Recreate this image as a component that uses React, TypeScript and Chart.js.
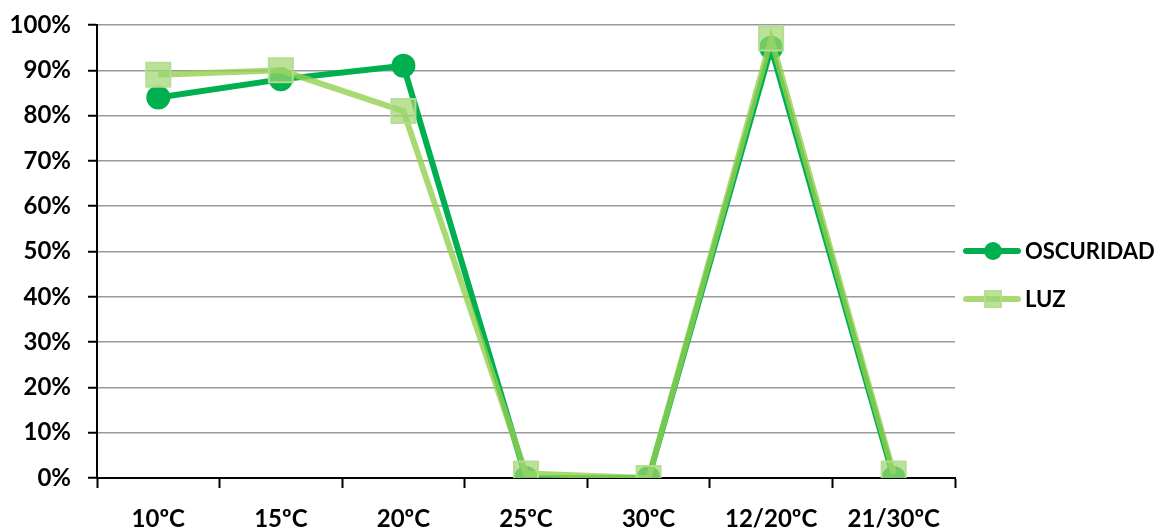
import React, { useEffect, useRef } from "react";
import { Chart, registerables } from "chart.js";

Chart.register(...registerables);

const categories = ["10ºC", "15ºC", "20ºC", "25ºC", "30ºC", "12/20ºC", "21/30ºC"];
const oscuridad = [84, 88, 91, 0, 0, 95, 0];
const luz = [89, 90, 81, 1, 0, 97, 1];
const seriesNames = ["OSCURIDAD", "LUZ"];

const FONT = "Lato, 'Open Sans', sans-serif";
const DARK = "#00B050";
const LIGHT_LINE = "rgba(146,208,80,0.8)";
const LIGHT_FILL = "rgba(160,214,110,0.7)";
const LIGHT_BORDER = "rgba(180,220,145,0.95)";

const legendPlugin = {
  id: "customLegend",
  afterDraw(chart: any) {
    const ctx = chart.ctx;
    ctx.save();
    // OSCURIDAD
    let y = 251;
    ctx.strokeStyle = DARK;
    ctx.lineWidth = 6;
    ctx.lineCap = "round";
    ctx.beginPath();
    ctx.moveTo(966, y);
    ctx.lineTo(1018, y);
    ctx.stroke();
    ctx.fillStyle = DARK;
    ctx.beginPath();
    ctx.arc(993, y, 9, 0, Math.PI * 2);
    ctx.fill();
    ctx.fillStyle = "#000";
    ctx.font = `bold 22px ${FONT}`;
    ctx.textBaseline = "middle";
    ctx.textAlign = "left";
    ctx.fillText(seriesNames[0], 1025, y + 1);
    // LUZ
    y = 299;
    ctx.strokeStyle = LIGHT_LINE;
    ctx.beginPath();
    ctx.moveTo(966, y);
    ctx.lineTo(1018, y);
    ctx.stroke();
    ctx.fillStyle = LIGHT_FILL;
    ctx.fillRect(985, y - 8, 16, 16);
    ctx.strokeStyle = LIGHT_BORDER;
    ctx.lineWidth = 2;
    ctx.strokeRect(985, y - 8, 16, 16);
    ctx.fillStyle = "#000";
    ctx.fillText(seriesNames[1], 1025, y + 1);
    ctx.restore();
  },
};

export default function App() {
  const ref = useRef<HTMLCanvasElement | null>(null);
  useEffect(() => {
    if (!ref.current) return;
    const chart = new Chart(ref.current, {
      type: "line",
      data: {
        labels: categories,
        datasets: [
          {
            label: seriesNames[0],
            data: oscuridad,
            borderColor: DARK,
            backgroundColor: DARK,
            borderWidth: 6,
            pointStyle: "circle",
            pointRadius: 12,
            pointBorderWidth: 0,
            pointBackgroundColor: DARK,
            tension: 0,
            order: 2,
          },
          {
            label: seriesNames[1],
            data: luz,
            borderColor: LIGHT_LINE,
            backgroundColor: LIGHT_FILL,
            borderWidth: 6,
            pointStyle: "rect",
            pointRadius: 17,
            pointBorderWidth: 2,
            pointBorderColor: LIGHT_BORDER,
            pointBackgroundColor: LIGHT_FILL,
            tension: 0,
            order: 1,
          },
        ],
      },
      options: {
        animation: false,
        responsive: false,
        layout: { padding: { top: 25, right: 211, left: 0, bottom: 0 } },
        plugins: { legend: { display: false }, tooltip: { enabled: false } },
        scales: {
          x: {
            type: "category",
            offset: true,
            grid: {
              offset: true,
              drawOnChartArea: false,
              drawTicks: true,
              tickLength: 10,
              tickColor: "#000",
              tickWidth: 2,
            },
            border: { color: "#000", width: 2 },
            ticks: {
              color: "#000",
              font: { family: FONT, size: 24, weight: "bold" },
              padding: 17,
              maxRotation: 0,
              autoSkip: false,
            },
            afterFit: (s: any) => {
              s.height = 51;
              s.paddingLeft = 0;
              s.paddingRight = 0;
            },
          },
          y: {
            min: 0,
            max: 100,
            grid: {
              color: (c: any) => (c.tick && c.tick.value === 0 ? "rgba(0,0,0,0)" : "#999"),
              lineWidth: 1.5,
              tickLength: 9,
              tickColor: "#000",
              tickWidth: 2,
            },
            border: { color: "#000", width: 2 },
            ticks: {
              stepSize: 10,
              color: "#000",
              padding: 17,
              font: { family: FONT, size: 24, weight: "bold" },
              callback: (v: any) => v + "%",
            },
            afterFit: (s: any) => {
              s.width = 97;
              s.paddingTop = 0;
              s.paddingBottom = 0;
            },
          },
        },
      },
      plugins: [legendPlugin],
    });
    return () => chart.destroy();
  }, []);
  return (
    <div style={{ position: "fixed", left: 0, top: 0, width: 1166, height: 529, background: "#fff" }}>
      <canvas ref={ref} width={1166} height={529} />
    </div>
  );
}
